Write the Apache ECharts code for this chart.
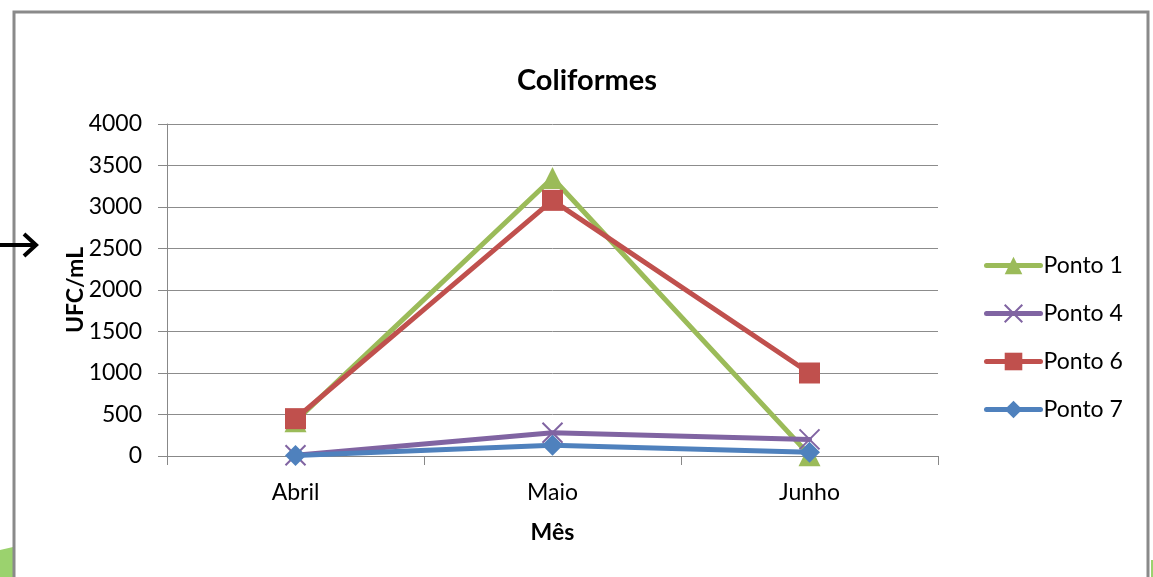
<!DOCTYPE html>
<html>
<head>
<meta charset="utf-8">
<script src="https://cdn.jsdelivr.net/npm/echarts@6/dist/echarts.min.js"></script>
<style>
  html, body { margin: 0; padding: 0; background: #fff; }
  #chart { width: 1153px; height: 577px; }
</style>
</head>
<body>
<div id="chart"></div>
<script>
// Monthly coliform counts (UFC/mL) at each sampling point
const months = ['Abril', 'Maio', 'Junho'];
const ponto1 = [420, 3350, 10];
const ponto4 = [10, 280, 200];
const ponto6 = [450, 3080, 1000];
const ponto7 = [5, 130, 45];
const yTicks = [0, 500, 1000, 1500, 2000, 2500, 3000, 3500, 4000];

const FONT = 'Lato, "Open Sans", sans-serif';
const crossPath = 'path://M0,0L10,10M10,0L0,10';

function lineSeries(name, data, color, symbol, symbolSize, z) {
  const isCross = symbol === crossPath;
  return {
    name: name,
    type: 'line',
    data: data,
    symbol: symbol,
    symbolSize: symbolSize,
    z: z,
    lineStyle: { color: color, width: 5, cap: 'round', join: 'round' },
    itemStyle: {
      color: isCross ? 'none' : color,
      borderColor: color,
      borderWidth: isCross ? 2 : 0
    },
    emphasis: { disabled: true }
  };
}

const chart = echarts.init(document.getElementById('chart'), null, { renderer: 'canvas' });
chart.setOption({
  animation: false,
  backgroundColor: '#ffffff',
  textStyle: { fontFamily: FONT },
  title: {
    text: 'Coliformes',
    left: 582, top: 61, textAlign: 'center',
    textStyle: { fontFamily: FONT, fontSize: 29, fontWeight: 'bold', color: '#000' }
  },
  grid: { left: 167, right: 215, top: 124, bottom: 121 },
  legend: {
    orient: 'vertical',
    left: 979, top: 249,
    itemGap: 25,
    itemWidth: 54, itemHeight: 22,
    lineStyle: { width: 5, cap: 'round' },
    textStyle: { fontFamily: FONT, fontSize: 23, color: '#000', padding: [0, 0, 0, -2] },
    data: ['Ponto 1', 'Ponto 4', 'Ponto 6', 'Ponto 7']
  },
  xAxis: {
    type: 'category',
    data: months,
    boundaryGap: true,
    name: 'Mês',
    nameLocation: 'middle',
    nameGap: 65,
    nameTextStyle: { fontFamily: FONT, fontSize: 23, fontWeight: 'bold', color: '#000' },
    axisLine: { lineStyle: { color: '#888', width: 1 } },
    axisTick: { show: true, length: 9, lineStyle: { color: '#888' } },
    axisLabel: { fontFamily: FONT, fontSize: 23, color: '#000', margin: 25 }
  },
  yAxis: {
    type: 'value',
    min: 0, max: 4000, interval: 500,
    name: 'UFC/mL',
    nameLocation: 'middle',
    nameGap: 80,
    nameRotate: 90,
    nameMoveOverlap: false,
    nameTextStyle: { fontFamily: FONT, fontSize: 23, fontWeight: 'bold', color: '#000' },
    axisLine: { show: true, lineStyle: { color: '#888', width: 1 } },
    axisTick: { show: true, length: 9, lineStyle: { color: '#888' } },
    splitLine: { lineStyle: { color: '#8c8c8c', width: 1 } },
    axisLabel: {
      fontFamily: FONT, fontSize: 23, color: '#000', margin: 25,
      formatter: function (v) { return yTicks.indexOf(v) >= 0 ? String(v) : ''; }
    }
  },
  series: [
    lineSeries('Ponto 1', ponto1, '#9bbb59', 'triangle', 22, 2),
    lineSeries('Ponto 4', ponto4, '#8064a2', crossPath, 20, 3),
    lineSeries('Ponto 6', ponto6, '#c0504d', 'rect', 21, 4),
    lineSeries('Ponto 7', ponto7, '#4f81bd', 'diamond', 21, 5)
  ],
  graphic: [
    {
      type: 'polyline', z: 100,
      shape: { points: [[14, 577], [14, 12], [1148, 12], [1148, 577]] },
      style: { stroke: '#8a8a8a', lineWidth: 3, fill: null }
    },
    {
      type: 'polygon', z: 99,
      shape: { points: [[0, 550], [13, 547], [13, 577], [0, 577]] },
      style: { fill: '#9bd26e' }
    },
    {
      type: 'polygon', z: 99,
      shape: { points: [[1151, 560], [1153, 560], [1153, 577], [1151, 577]] },
      style: { fill: '#9bd26e' }
    },
    {
      type: 'polyline', z: 101,
      shape: { points: [[0, 245], [34, 245]] },
      style: { stroke: '#000', lineWidth: 4, fill: null }
    },
    {
      type: 'polyline', z: 101,
      shape: { points: [[24, 234], [36, 245], [24, 256]] },
      style: { stroke: '#000', lineWidth: 4, fill: null, lineJoin: 'miter' }
    }
  ]
});
</script>
</body>
</html>
